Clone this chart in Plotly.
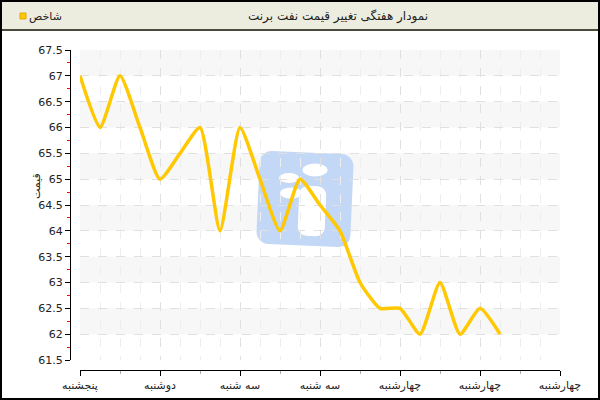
import math
import plotly.graph_objects as go

# ---------------- data ----------------
series_name = "شاخص"
chart_title = "نمودار هفتگی تغییر قیمت نفت برنت"
y_title = "قیمت"
x_pos = [0, 1, 2, 3, 4, 5, 6, 7, 8, 9, 10, 11, 12, 13, 14, 15, 16, 17, 18, 19, 20, 21]
prices = [67, 66, 67, 66, 65, 65.5, 66, 64, 66, 65, 64, 65, 64.5, 64,
          63, 62.5, 62.5, 62, 63, 62, 62.5, 62]
x_tick_vals = [0, 4, 8, 12, 16, 20, 24]
x_tick_labels = ["پنجشنبه", "دوشنبه", "سه شنبه", "سه شنبه",
                 "چهارشنبه", "چهارشنبه", "چهارشنبه"]
x_minor_tick_vals = [2, 6, 10, 14, 18, 22]
y_min, y_max, y_step = 61.5, 67.5, 0.5
x_min, x_max = 0, 24

# ---------------- layout helpers ----------------
W, H = 600, 400
ML, MR, MT, MB = 70, 40, 50, 30
PW, PH = W - ML - MR, H - MT - MB
FONT = "Tahoma, DejaVu Sans, sans-serif"
# plot area in pixels
PX0, PX1, PY0, PY1 = 80, 560, 50, 360


def fx(px):
    return (px - ML) / PW


def fy(py):
    return (H - MB - py) / PH


def dx(px):
    return x_min + (px - PX0) / (PX1 - PX0) * (x_max - x_min)


def dy(py):
    return y_min + (PY1 - py) / (PY1 - PY0) * (y_max - y_min)


LINE_COLOR = "#FFC800"

fig = go.Figure()
fig.add_trace(go.Scatter(
    x=x_pos, y=prices, mode="lines", name=series_name,
    line=dict(color=LINE_COLOR, width=3.5, shape="spline", smoothing=0.55),
    hoverinfo="x+y",
))
fig.add_trace(go.Scatter(x=[None], y=[None], xaxis="x2", showlegend=False,
                         hoverinfo="skip"))

shapes = []
# alternating horizontal bands
n_steps = int(round((y_max - y_min) / y_step))
for k in range(n_steps):
    lo = y_min + k * y_step
    if k % 2 == 1:
        shapes.append(dict(type="rect", xref="x", yref="y", x0=x_min, x1=x_max,
                           y0=lo, y1=lo + y_step, fillcolor="#F7F7F7",
                           line=dict(width=0), layer="below"))


# watermark logo (rounded, slightly rotated square) in data coords
def rounded_rect_path(cx, cy, w, h, r, ang_deg):
    a = math.radians(ang_deg)
    pts = []
    corners = [(w / 2 - r, -h / 2 + r, -90), (w / 2 - r, h / 2 - r, 0),
               (-w / 2 + r, h / 2 - r, 90), (-w / 2 + r, -h / 2 + r, 180)]
    for (ccx, ccy, start) in corners:
        for s in range(0, 91, 15):
            t = math.radians(start + s)
            pts.append((ccx + r * math.cos(t), ccy + r * math.sin(t)))
    out = []
    for (u, v) in pts:
        X = cx + u * math.cos(a) - v * math.sin(a)
        Y = cy + u * math.sin(a) + v * math.cos(a)
        out.append((dx(X), dy(Y)))
    return "M " + " L ".join(f"{p[0]:.5f},{p[1]:.5f}" for p in out) + " Z"


shapes.append(dict(type="path", xref="x", yref="y",
                   path=rounded_rect_path(305, 199, 94, 93, 12, 2.5),
                   fillcolor="#C3D7F6", line=dict(width=0), layer="below"))
shapes.append(dict(type="path", xref="x", yref="y",
                   path=rounded_rect_path(312, 211, 27, 50, 9, 2.5),
                   fillcolor="white", line=dict(width=0), layer="below"))
for (cx, cy, rx, ry) in [(315, 170, 12.5, 6.5), (289, 178, 10, 5),
                         (291, 193, 11, 5.5)]:
    shapes.append(dict(type="circle", xref="x", yref="y",
                       x0=dx(cx - rx), x1=dx(cx + rx), y0=dy(cy + ry), y1=dy(cy - ry),
                       fillcolor="white", line=dict(width=0), layer="below"))

# title bar and frame
shapes.append(dict(type="rect", xref="paper", yref="paper",
                   x0=fx(1), x1=fx(599), y0=fy(30), y1=fy(1),
                   fillcolor="#EDEDDF", line=dict(color="#4B4B3B", width=2),
                   layer="above"))
shapes.append(dict(type="rect", xref="paper", yref="paper",
                   x0=fx(1), x1=fx(599), y0=fy(399), y1=fy(1),
                   fillcolor="rgba(0,0,0,0)", line=dict(color="black", width=2),
                   layer="above"))
# legend swatch
shapes.append(dict(type="rect", xref="paper", yref="paper",
                   x0=fx(20), x1=fx(26), y0=fy(19), y1=fy(13),
                   fillcolor=LINE_COLOR, line=dict(color="#E3A800", width=1),
                   layer="above"))

annotations = [
    dict(text=chart_title, xref="paper", yref="paper", x=fx(338), y=fy(16),
         xanchor="center", yanchor="middle", showarrow=False,
         font=dict(family=FONT, size=12, color="#222222")),
    dict(text=series_name, xref="paper", yref="paper", x=fx(27), y=fy(16),
         xanchor="left", yanchor="middle", showarrow=False,
         font=dict(family=FONT, size=11, color="#222222")),
    dict(text=y_title, xref="paper", yref="paper", x=fx(36), y=fy(186),
         xanchor="center", yanchor="middle", showarrow=False, textangle=-90,
         font=dict(family=FONT, size=11, color="#222222")),
]

fig.update_layout(
    width=W, height=H,
    margin=dict(l=ML, r=MR, t=MT, b=MB, autoexpand=False),
    paper_bgcolor="white", plot_bgcolor="white",
    showlegend=False,
    font=dict(family=FONT, size=10, color="#222222"),
    shapes=shapes, annotations=annotations,
    xaxis=dict(
        domain=[10 / PW, 1], range=[x_min, x_max], anchor="free", position=0,
        automargin=False,
        tickmode="array", tickvals=x_tick_vals, ticktext=x_tick_labels,
        ticks="outside", ticklen=5, tickcolor="black", tickwidth=1,
        showline=True, linecolor="black", linewidth=1,
        showgrid=True, gridcolor="#E0E0E0", griddash="dash", gridwidth=1,
        minor=dict(tick0=0, dtick=1, showgrid=True, gridcolor="#EEEEEE",
                   griddash="dash", ticks=""),
        zeroline=False, tickfont=dict(family=FONT, size=11, color="#222222"),
    ),
    xaxis2=dict(
        overlaying="x", anchor="free", position=0, range=[x_min, x_max],
        automargin=False,
        tickmode="array", tickvals=x_minor_tick_vals, ticks="outside",
        ticklen=3, tickcolor="#AAAAAA", showticklabels=False,
        showgrid=False, showline=False, zeroline=False,
    ),
    yaxis=dict(
        domain=[10 / PH, 1], range=[y_min, y_max], anchor="free", position=0,
        automargin=False,
        tick0=y_min, dtick=y_step,
        ticks="outside", ticklen=5, tickcolor="black", tickwidth=1,
        showline=True, linecolor="black", linewidth=1,
        showgrid=True, gridcolor="#E0E0E0", griddash="dash", gridwidth=1,
        minor=dict(tick0=y_min, dtick=y_step / 2, ticks="outside", ticklen=3,
                   tickcolor="red", showgrid=False),
        zeroline=False, tickfont=dict(family=FONT, size=11, color="#222222"),
    ),
)

fig.write_html("out.html",
               config={"displayModeBar": False},
               post_script="document.body.style.margin='0';"
                           "document.body.style.overflow='hidden';")
